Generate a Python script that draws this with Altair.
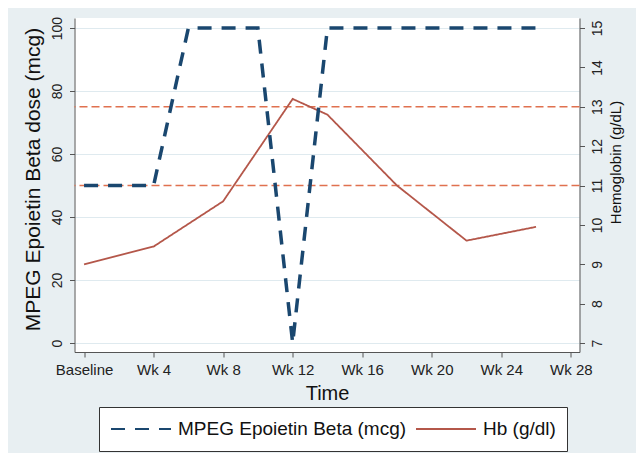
import altair as alt
import pandas as pd

# ---- data ----
dose_weeks = [0, 4, 6, 10, 12, 14, 26]
dose_mcg = [50, 50, 100, 100, 0, 100, 100]

hb_weeks = [0, 4, 8, 12, 14, 18, 22, 26]
hb_gdl = [9.0, 9.45, 10.6, 13.2, 12.8, 11.0, 9.6, 9.95]

hb_target = [11, 13]

x_tick_values = [0, 4, 8, 12, 16, 20, 24, 28]
x_tick_labels = ["Baseline", "Wk 4", "Wk 8", "Wk 12", "Wk 16", "Wk 20", "Wk 24", "Wk 28"]
dose_ticks = [0, 20, 40, 60, 80, 100]
hb_ticks = [7, 8, 9, 10, 11, 12, 13, 14, 15]

series_names = ["MPEG Epoietin Beta (mcg)", "Hb (g/dl)"]

# ---- styling ----
FONT = "Liberation Sans"
BLUE = "#1a476f"
RED = "#b4574a"
REF = "#e0714f"
BG = "#e8eff2"

dose_df = pd.DataFrame({"week": dose_weeks, "value": dose_mcg, "series": series_names[0]})
hb_df = pd.DataFrame({"week": hb_weeks, "value": hb_gdl, "series": series_names[1]})
ref_df = pd.DataFrame({"value": hb_target})

label_expr = (
    "[" + ",".join("'%s'" % s for s in x_tick_labels) + "][indexof(["
    + ",".join(str(v) for v in x_tick_values) + "], datum.value)]"
)

x_scale = alt.Scale(domain=[-0.55, 28.5], nice=False, zero=False)
x_axis = alt.Axis(
    values=x_tick_values, labelExpr=label_expr, title="Time", grid=False,
    labelFontSize=15, titleFontSize=20, titleFontWeight="normal",
    tickSize=5, labelPadding=5, titleY=41, titleBaseline="middle",
    domainColor="#555555", tickColor="#555555", labelColor="#222222", titleColor="#111111",
    labelFont=FONT, titleFont=FONT,
)

dose_domain = [-2.86, 103.2]
hb_domain = [7 + dose_domain[0] / 12.5, 7 + dose_domain[1] / 12.5]

color_scale = alt.Scale(domain=series_names, range=[BLUE, RED])
dash_scale = alt.Scale(domain=series_names, range=[[14, 10], [1, 0]])

legend = alt.Legend(
    title=None, orient="none", legendX=24.5, legendY=389, direction="horizontal",
    symbolType="stroke", symbolSize=3600, symbolStrokeWidth=2, clipHeight=22,
    labelFontSize=19, labelFont=FONT, labelColor="#111111", labelOffset=6,
    labelLimit=400, columnPadding=8, padding=11,
    fillColor="white", strokeColor="#333333", cornerRadius=0,
)

dose_line = alt.Chart(dose_df).mark_line(strokeWidth=3.5).encode(
    x=alt.X("week:Q", scale=x_scale, axis=x_axis),
    y=alt.Y(
        "value:Q", scale=alt.Scale(domain=dose_domain, nice=False, zero=False),
        axis=alt.Axis(
            orient="left", values=dose_ticks, title="MPEG Epoietin Beta dose (mcg)",
            grid=True, gridColor="#dfeaef", gridWidth=1,
            labelAngle=270, labelAlign="center", labelBaseline="bottom",
            labelFontSize=14, titleFontSize=21, titleFontWeight="normal",
            titleAngle=270, titleX=-41.5, titleY=161, titleBaseline="middle", titleAlign="center",
            tickSize=5, labelPadding=5,
            domainColor="#555555", tickColor="#555555", labelColor="#222222", titleColor="#111111",
            labelFont=FONT, titleFont=FONT,
        ),
    ),
    color=alt.Color("series:N", scale=color_scale, legend=legend),
    strokeDash=alt.StrokeDash("series:N", scale=dash_scale, legend=legend),
)

hb_y_scale = alt.Scale(domain=hb_domain, nice=False, zero=False)
hb_axis = alt.Axis(
    orient="right", values=hb_ticks, title="Hemoglobin (g/dL)", grid=False,
    labelAngle=270, labelAlign="center", labelBaseline="top",
    labelFontSize=14, titleFontSize=15, titleFontWeight="normal",
    titleAngle=270, titleX=36, titleY=144, titleBaseline="middle", titleAlign="center",
    tickSize=5, labelPadding=6,
    domainColor="#555555", tickColor="#555555", labelColor="#222222", titleColor="#111111",
    labelFont=FONT, titleFont=FONT,
)

ref_rules = alt.Chart(ref_df).mark_rule(color=REF, strokeWidth=1.6, strokeDash=[8, 4]).encode(
    y=alt.Y("value:Q", scale=hb_y_scale, axis=hb_axis),
)

hb_line = alt.Chart(hb_df).mark_line(strokeWidth=1.8).encode(
    x=alt.X("week:Q", scale=x_scale, axis=x_axis),
    y=alt.Y("value:Q", scale=hb_y_scale, axis=hb_axis),
    color=alt.Color("series:N", scale=color_scale, legend=legend),
    strokeDash=alt.StrokeDash("series:N", scale=dash_scale, legend=legend),
)

chart = alt.layer(
    alt.layer(ref_rules, hb_line),
    dose_line,
).resolve_scale(y="independent").properties(
    width=505, height=334,
    autosize=alt.AutoSizeParams(type="none"),
    padding={"left": 66.5, "top": 10, "right": 56.5, "bottom": 101},
    background=BG,
).configure_view(fill="white", stroke=None)

chart.save("out.html", embed_options={"renderer": "svg", "actions": False})
